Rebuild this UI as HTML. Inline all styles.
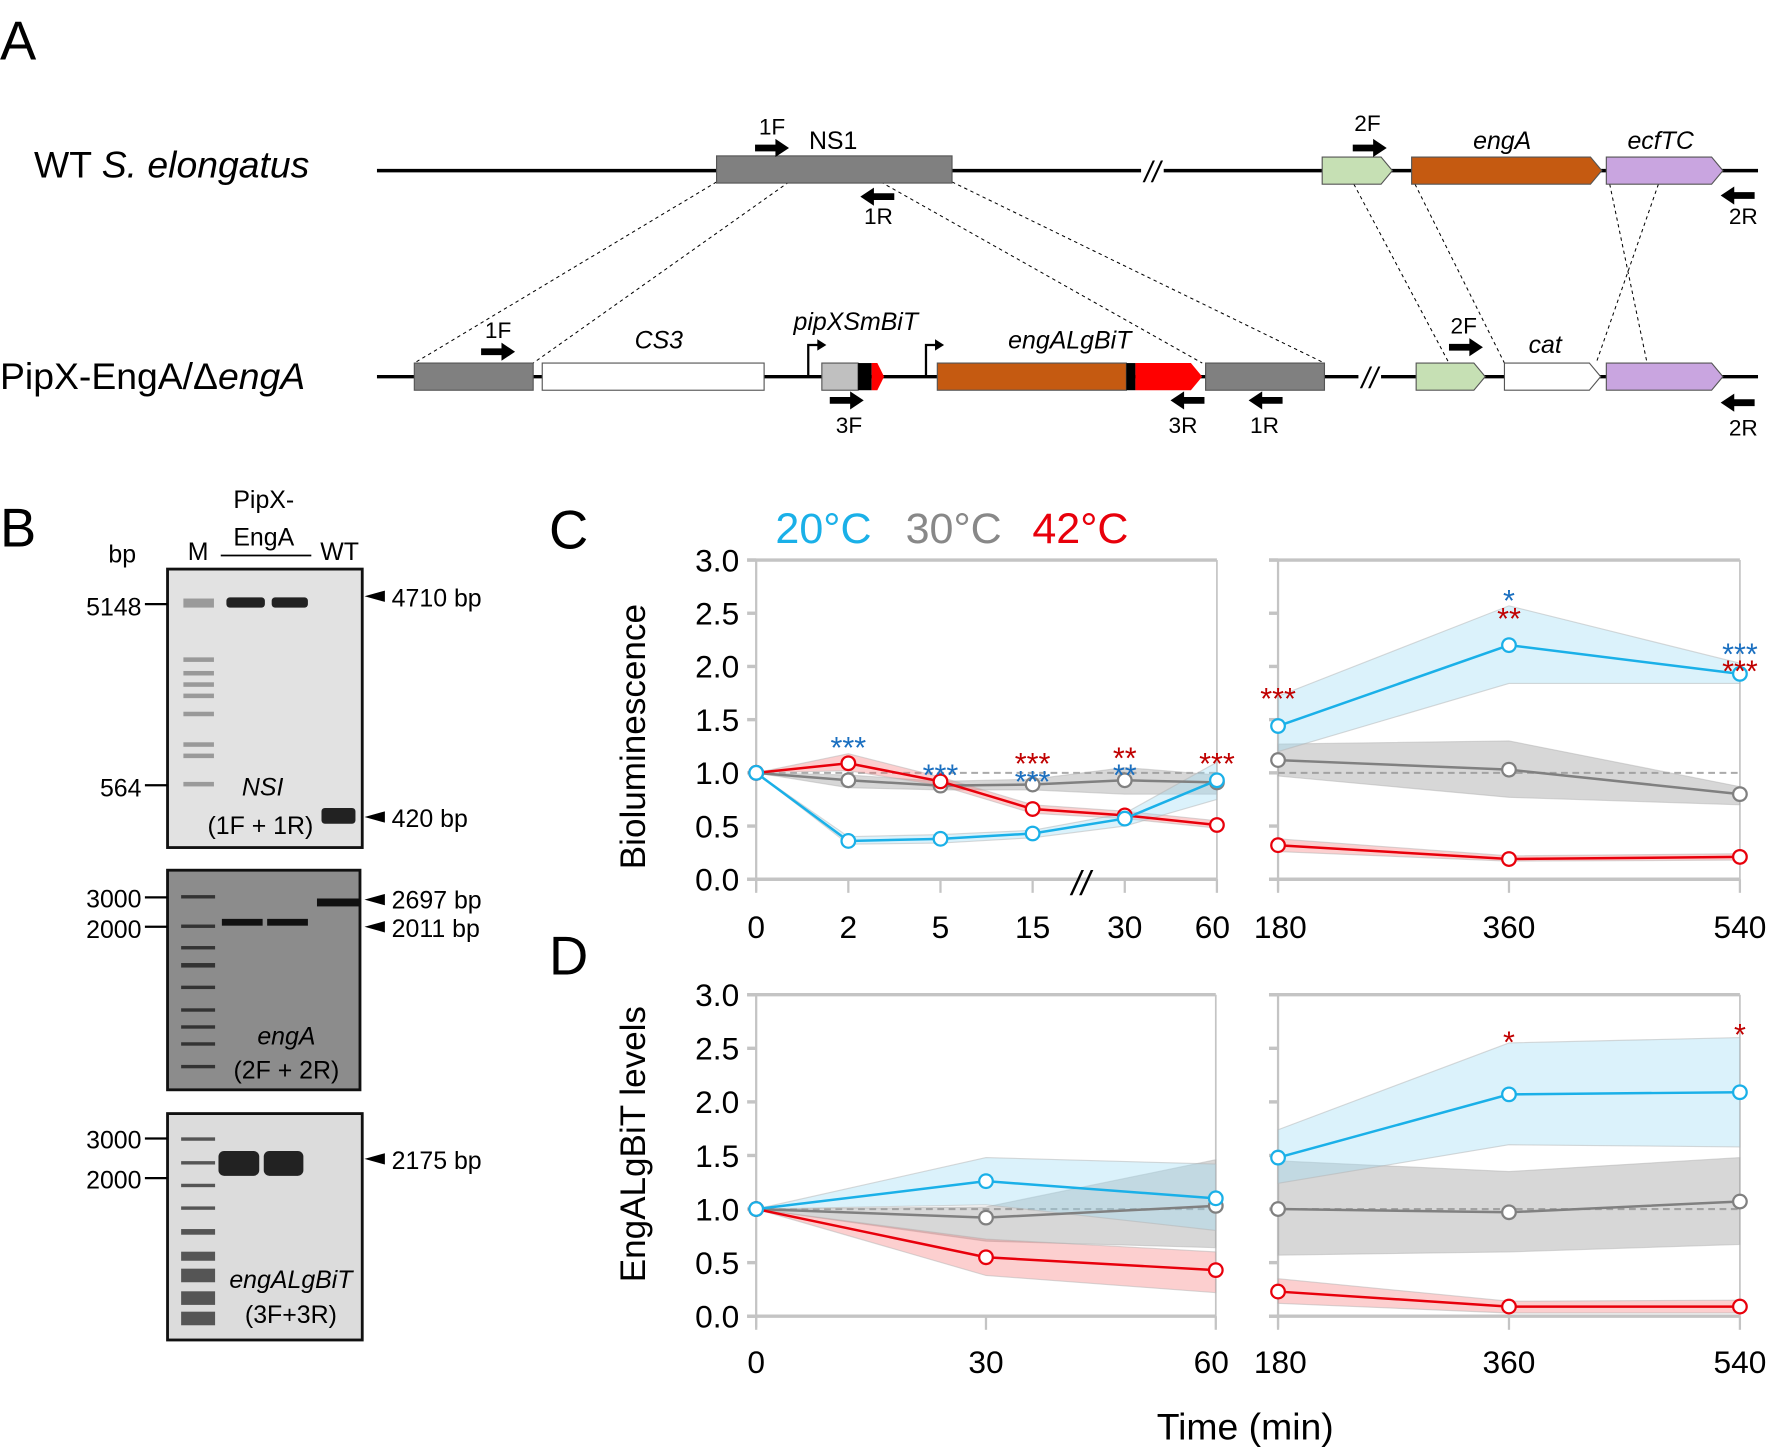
<!DOCTYPE html>
<html><head><meta charset="utf-8"><style>
html,body{margin:0;padding:0;background:#fff;}
svg{display:block;font-family:"Liberation Sans",Arial,sans-serif;}
</style></head><body>
<svg id="fig" width="1775" height="1454" viewBox="0 0 1568 1283" xmlns="http://www.w3.org/2000/svg">
<rect width="1568" height="1283" fill="#fff"/>
<!-- Panel A -->
<g>
<text x="0" y="52" font-size="48">A</text>
<text x="30" y="156" font-size="33">WT <tspan font-style="italic">S. elongatus</tspan></text>
<line x1="333" y1="150" x2="1553" y2="150" stroke="#000" stroke-width="3"/>
<g stroke="#000" stroke-width="0.9" stroke-dasharray="3,3" fill="none">
<line x1="633" y1="160" x2="366" y2="320"/><line x1="697" y1="160" x2="471" y2="320"/>
<line x1="778" y1="160" x2="1062" y2="320"/><line x1="841" y1="160" x2="1170" y2="320"/>
<line x1="1196" y1="162" x2="1280" y2="320"/><line x1="1250" y1="162" x2="1329" y2="320"/>
<line x1="1422" y1="162" x2="1455" y2="320"/><line x1="1465" y1="162" x2="1410" y2="320"/>
</g>
<rect x="633" y="137" width="208" height="24" fill="#808080" stroke="#555"/>
<text x="736" y="131" font-size="22" text-anchor="middle">NS1</text>
<rect x="1008" y="140" width="20" height="20" fill="#fff"/>
<text x="1018" y="160" font-size="26" text-anchor="middle" font-style="italic">//</text>
<polygon points="1168,138 1220,138 1230,150 1220,162 1168,162" fill="#c6e0b4" stroke="#555"/>
<polygon points="1247,138 1405,138 1415,150 1405,162 1247,162" fill="#c55a11" stroke="#555"/>
<polygon points="1419,138 1512,138 1522,150 1512,162 1419,162" fill="#c9a5e0" stroke="#555"/>
<text x="1327" y="131" font-size="22" text-anchor="middle" font-style="italic">engA</text>
<text x="1467" y="131" font-size="22" text-anchor="middle" font-style="italic">ecfTC</text>
<text x="0" y="343" font-size="33">PipX-EngA/Δ<tspan font-style="italic">engA</tspan></text>
<line x1="333" y1="332" x2="1553" y2="332" stroke="#000" stroke-width="3"/>
<rect x="366" y="320" width="105" height="24" fill="#808080" stroke="#555"/>
<rect x="479" y="320" width="196" height="24" fill="#fff" stroke="#555"/>
<text x="582" y="307" font-size="22" text-anchor="middle" font-style="italic">CS3</text>
<path d="M714,332 V304 H724" fill="none" stroke="#000" stroke-width="2"/><polygon points="722,299 730,304 722,309" fill="#000"/>
<rect x="726" y="320" width="32" height="24" fill="#c0c0c0" stroke="#555"/>
<rect x="758" y="320" width="12" height="24" fill="#000"/>
<polygon points="770,320 775,320 781,332 775,344 770,344" fill="#f00"/>
<text x="756" y="291" font-size="22" text-anchor="middle" font-style="italic">pipXSmBiT</text>
<path d="M818,332 V304 H828" fill="none" stroke="#000" stroke-width="2"/><polygon points="826,299 834,304 826,309" fill="#000"/>
<rect x="828" y="320" width="167" height="24" fill="#c55a11" stroke="#555"/>
<rect x="995" y="320" width="8" height="24" fill="#000"/>
<polygon points="1003,320 1052,320 1062,332 1052,344 1003,344" fill="#f00"/>
<text x="945" y="307" font-size="22" text-anchor="middle" font-style="italic">engALgBiT</text>
<rect x="1065" y="320" width="105" height="24" fill="#808080" stroke="#555"/>
<rect x="1200" y="322" width="20" height="20" fill="#fff"/>
<text x="1210" y="342" font-size="26" text-anchor="middle" font-style="italic">//</text>
<polygon points="1251,320 1302,320 1312,332 1302,344 1251,344" fill="#c6e0b4" stroke="#555"/>
<polygon points="1329,320 1404,320 1414,332 1404,344 1329,344" fill="#fff" stroke="#555"/>
<polygon points="1419,320 1512,320 1522,332 1512,344 1419,344" fill="#c9a5e0" stroke="#555"/>
<text x="1365" y="311" font-size="22" text-anchor="middle" font-style="italic">cat</text>
<g id="primers"></g>
</g>
<!-- Panel B -->
<g font-size="22">
<text x="0" y="482" font-size="48">B</text>
<text x="108" y="496" text-anchor="middle">bp</text>
<text x="175" y="494" text-anchor="middle">M</text>
<text x="233" y="448" text-anchor="middle">PipX-</text>
<text x="233" y="481" text-anchor="middle">EngA</text>
<line x1="195" y1="490" x2="275" y2="490" stroke="#000" stroke-width="1.5"/>
<text x="300" y="494" text-anchor="middle">WT</text>
<rect x="148" y="502" width="172" height="246" fill="#e2e2e2" stroke="#111" stroke-width="2.5"/>
<rect x="148" y="768" width="170" height="194" fill="#8c8c8c" stroke="#111" stroke-width="2.5"/>
<rect x="148" y="983" width="172" height="200" fill="#dcdcdc" stroke="#111" stroke-width="2.5"/>
<g fill="#222">
<rect x="200" y="527" width="34" height="9" rx="3"/><rect x="240" y="527" width="32" height="9" rx="3"/>
<rect x="284" y="713" width="30" height="14" rx="3"/>
<rect x="196" y="811" width="36" height="6" fill="#111"/><rect x="236" y="811" width="36" height="6" fill="#111"/><rect x="280" y="793" width="38" height="7" fill="#111"/>
<rect x="193" y="1016" width="36" height="22" rx="5"/><rect x="233" y="1016" width="35" height="22" rx="5"/>
</g>
<g fill="#888" opacity="0.8">
<rect x="162" y="528" width="27" height="8"/><rect x="162" y="580" width="27" height="4"/><rect x="162" y="592" width="27" height="4"/><rect x="162" y="602" width="27" height="4"/><rect x="162" y="612" width="27" height="4"/><rect x="162" y="628" width="27" height="4"/><rect x="162" y="655" width="27" height="4"/><rect x="162" y="665" width="27" height="4"/><rect x="162" y="690" width="27" height="4"/>
</g>
<g fill="#333"><rect x="160" y="790" width="30" height="3"/><rect x="160" y="816" width="30" height="3"/><rect x="160" y="835" width="30" height="3"/><rect x="160" y="850" width="30" height="4"/><rect x="160" y="870" width="30" height="3"/><rect x="160" y="890" width="30" height="3"/><rect x="160" y="905" width="30" height="3"/><rect x="160" y="920" width="30" height="3"/><rect x="160" y="940" width="30" height="3"/></g>
<g fill="#555"><rect x="160" y="1004" width="30" height="3"/><rect x="160" y="1025" width="30" height="3"/><rect x="160" y="1045" width="30" height="3"/><rect x="160" y="1065" width="30" height="3"/><rect x="160" y="1085" width="30" height="5"/><rect x="160" y="1105" width="30" height="8"/><rect x="160" y="1120" width="30" height="12"/><rect x="160" y="1140" width="30" height="12"/><rect x="160" y="1158" width="30" height="12"/></g>
<g stroke="#000" stroke-width="2"><line x1="128" y1="533" x2="148" y2="533"/><line x1="128" y1="693" x2="148" y2="693"/><line x1="128" y1="792" x2="148" y2="792"/><line x1="128" y1="818" x2="148" y2="818"/><line x1="128" y1="1005" x2="148" y2="1005"/><line x1="128" y1="1040" x2="148" y2="1040"/></g>
<g text-anchor="end"><text x="125" y="543">5148</text><text x="125" y="703">564</text><text x="125" y="801">3000</text><text x="125" y="828">2000</text><text x="125" y="1014">3000</text><text x="125" y="1049">2000</text></g>
<g fill="#000"><polygon points="322,526 340,521 340,531"/><polygon points="322,721 340,716 340,726"/><polygon points="322,794 340,789 340,799"/><polygon points="322,818 340,813 340,823"/><polygon points="322,1023 340,1018 340,1028"/></g>
<text x="346" y="535">4710 bp</text><text x="346" y="730">420 bp</text><text x="346" y="802">2697 bp</text><text x="346" y="827">2011 bp</text><text x="346" y="1032">2175 bp</text>
<g text-anchor="middle"><text x="232" y="702" font-style="italic">NSI</text><text x="230" y="736">(1F + 1R)</text>
<text x="253" y="922" font-style="italic">engA</text><text x="253" y="952">(2F + 2R)</text>
<text x="257" y="1137" font-style="italic">engALgBiT</text><text x="257" y="1168">(3F+3R)</text></g>
</g>
<!-- Panels C/D -->
<text x="485" y="484" font-size="48">C</text>
<text x="485" y="860" font-size="48">D</text>
<g font-size="38">
<text x="685" y="479" fill="#1ab0e8">20°C</text>
<text x="800" y="479" fill="#888">30°C</text>
<text x="912" y="479" fill="#e8000b">42°C</text>
</g>
<text transform="translate(570,650) rotate(-90)" font-size="31" text-anchor="middle">Bioluminescence</text>
<text transform="translate(570,1010) rotate(-90)" font-size="31" text-anchor="middle">EngALgBiT levels</text>
<text x="1100" y="1271" font-size="33" text-anchor="middle">Time (min)</text>
<g id="charts"></g>
</svg>
<script>
// ---- Panel C data ----
const cLeftCats = ["0","2","5","15","30","60"];
const cRightCats = ["180","360","540"];
const c20 = [1.0,0.36,0.38,0.43,0.57,0.93,1.44,2.2,1.93];
const c20lo = [1.0,0.33,0.34,0.39,0.5,0.75,1.2,1.84,1.84];
const c20hi = [1.0,0.4,0.42,0.46,0.62,1.1,1.72,2.57,2.03];
const c30 = [1.0,0.93,0.88,0.89,0.93,0.91,1.12,1.03,0.8];
const c30lo = [1.0,0.86,0.84,0.84,0.8,0.8,0.97,0.77,0.7];
const c30hi = [1.0,0.98,0.92,0.94,1.05,0.98,1.27,1.3,0.87];
const c42 = [1.0,1.09,0.92,0.66,0.6,0.51,0.32,0.19,0.21];
const c42lo = [1.0,1.02,0.88,0.62,0.57,0.48,0.26,0.17,0.18];
const c42hi = [1.0,1.18,0.96,0.7,0.64,0.55,0.38,0.22,0.24];
const cStarIdx = [1,2,3,3,4,4,5,6,7,7,8,8];
const cStarText = ["***","***","***","***","**","**","***","***","*","**","***","***"];
const cStarColor = ["b","b","r","b","r","b","r","r","b","r","b","r"];
const cStarLevel = [1.31,1.05,1.16,0.99,1.21,1.05,1.16,1.77,2.69,2.52,2.19,2.03];
// ---- Panel D data ----
const dLeftCats = ["0","30","60"];
const dRightCats = ["180","360","540"];
const d20 = [1.0,1.26,1.1,1.48,2.07,2.09];
const d20lo = [1.0,1.04,0.8,1.24,1.6,1.58];
const d20hi = [1.0,1.48,1.42,1.74,2.55,2.6];
const d30 = [1.0,0.92,1.03,1.0,0.97,1.07];
const d30lo = [1.0,0.7,0.64,0.57,0.6,0.67];
const d30hi = [1.0,1.02,1.46,1.45,1.35,1.48];
const d42 = [1.0,0.55,0.43,0.23,0.09,0.09];
const d42lo = [1.0,0.38,0.22,0.12,0.03,0.03];
const d42hi = [1.0,0.72,0.6,0.35,0.14,0.15];
const dStarIdx = [4,5];
const dStarText = ["*","*"];
const dStarColor = ["r","r"];
const dStarLevel = [2.63,2.7];
const yTicks = [0,0.5,1.0,1.5,2.0,2.5,3.0];

const NS="http://www.w3.org/2000/svg";
function mk(tag,attrs,parent){const e=document.createElementNS(NS,tag);for(const k in attrs)e.setAttribute(k,attrs[k]);if(parent)parent.appendChild(e);return e;}
const COL={c:"#1ab0e8",g:"#808080",r:"#e8000b"};
const BAND={c:"rgba(160,220,245,0.38)",g:"rgba(150,150,150,0.38)",r:"rgba(245,110,110,0.33)"};
const STAR={b:"#1a6fc0",r:"#c00000"};

const pr=document.getElementById('primers');
const primerDefs=[[667,130,1,"1F",682,118],[760,173,-1,"1R",776,197],[1195,130,1,"2F",1208,115],[1520,172,-1,"2R",1540,197],
[425,310,1,"1F",440,298],[1280,306,1,"2F",1293,294],[733,353,1,"3F",750,382],[1034,353,-1,"3R",1045,382],[1103,353,-1,"1R",1117,382],[1520,355,-1,"2R",1540,384]];
primerDefs.forEach(p=>{
  const g=mk('g',{},pr);
  
  
  const x=p[0],y=p[1],w=30;
  const pts=p[2]>0?`${x},${y-3} ${x+18},${y-3} ${x+18},${y-8} ${x+w},${y} ${x+18},${y+8} ${x+18},${y+3} ${x},${y+3}`:
  `${x+w},${y-3} ${x+12},${y-3} ${x+12},${y-8} ${x},${y} ${x+12},${y+8} ${x+12},${y+3} ${x+w},${y+3}`;
  mk('polygon',{points:pts,fill:'#000'},g);
  const t=mk('text',{x:p[4],y:p[5],'font-size':20,'text-anchor':'middle'},g);t.textContent=p[3];
});

const charts=document.getElementById('charts');
function drawPanel(cfg){
  const g=mk('g',{},charts);
  
  
  const yS=v=>cfg.y0-(cfg.y0-cfg.y3)*v/3;
  const nL=cfg.left.length;
  const xL=i=>cfg.lx0+(cfg.lx1-cfg.lx0)*i/(nL-1);
  const nR=cfg.right.length;
  const xR=i=>cfg.rx0+(cfg.rx1-cfg.rx0)*i/(nR-1);
  const xI=i=>i<nL?xL(i):xR(i-nL);
  [[cfg.lx0,cfg.lx1],[cfg.rx0,cfg.rx1]].forEach(([a,b],k)=>{
    const f=mk('g',{},g);
    
    
    mk('line',{x1:a-8,y1:yS(3),x2:b,y2:yS(3),stroke:'#c4c4c4','stroke-width':3},f);
    mk('line',{x1:a-8,y1:yS(0),x2:b,y2:yS(0),stroke:'#c4c4c4','stroke-width':3},f);
    mk('line',{x1:a,y1:yS(3),x2:a,y2:yS(0)+10,stroke:'#c4c4c4','stroke-width':2},f);
    mk('line',{x1:b,y1:yS(3),x2:b,y2:yS(0)+10,stroke:'#c4c4c4','stroke-width':1.5},f);
    yTicks.forEach(t=>mk('line',{x1:a-8,y1:yS(t),x2:a,y2:yS(t),stroke:'#c4c4c4','stroke-width':3},f));
    mk('line',{x1:a,y1:yS(1),x2:b,y2:yS(1),stroke:'#aaa','stroke-width':1.8,'stroke-dasharray':'6,4'},f);
  });
  yTicks.forEach(t=>{const tx=mk('text',{x:cfg.lx0-15,y:yS(t)+10,'font-size':28,'text-anchor':'end'},g);
    
    
    tx.textContent=t.toFixed(1);});
  cfg.left.forEach((c,i)=>{mk('line',{x1:xL(i),y1:yS(0),x2:xL(i),y2:yS(0)+12,stroke:'#c4c4c4','stroke-width':2},g);
    const t=mk('text',{x:xL(i)-(i==nL-1?4:0),y:cfg.tickY,'font-size':28,'text-anchor':'middle'},g);
    
    
    t.textContent=c;});
  cfg.right.forEach((c,i)=>{mk('line',{x1:xR(i),y1:yS(0),x2:xR(i),y2:yS(0)+12,stroke:'#c4c4c4','stroke-width':2},g);
    const t=mk('text',{x:xR(i)+(i==0?2:0),y:cfg.tickY,'font-size':28,'text-anchor':'middle'},g);
    
    
    t.textContent=c;});
  if(cfg.brk){const b=mk('text',{x:cfg.brk,y:yS(0)+14,'font-size':30,'text-anchor':'middle','font-style':'italic'},g);b.textContent='//';}
  const segs=[[0,nL],[nL,nL+nR]];
  cfg.series.forEach(s=>{
    segs.forEach(([a,b])=>{
      let d='';for(let i=a;i<b;i++)d+=(i==a?'M':'L')+xI(i)+','+yS(s.hi[i]);
      for(let i=b-1;i>=a;i--)d+='L'+xI(i)+','+yS(s.lo[i]);
      const band=mk('path',{d:d+'Z',fill:BAND[s.c],stroke:'rgba(180,180,180,0.5)','stroke-width':1},g);
      
      
    });
  });
  cfg.series.forEach(s=>{
    segs.forEach(([a,b])=>{
      let d='';for(let i=a;i<b;i++)d+=(i==a?'M':'L')+xI(i)+','+yS(s.v[i]);
      const ln=mk('path',{d:d,fill:'none',stroke:COL[s.c],'stroke-width':2.2},g);
      
      
    });
    s.v.forEach((v,i)=>{const p=mk('circle',{cx:xI(i),cy:yS(v),r:6,fill:'#fff',stroke:COL[s.c],'stroke-width':2},g);
      
      });
  });
  cfg.stars.idx.forEach((ix,k)=>{
    const t=mk('text',{x:xI(ix),y:yS(cfg.stars.lvl[k])+16,'font-size':27,'text-anchor':'middle',fill:STAR[cfg.stars.col[k]]},g);
    
    
    t.textContent=cfg.stars.txt[k];
  });
}
drawPanel({name:'chart-bioluminescence',y0:776,y3:494,lx0:668,lx1:1075,rx0:1129,rx1:1537,left:cLeftCats,right:cRightCats,tickY:828,brk:955,
  series:[{n:'30c',c:'g',v:c30,lo:c30lo,hi:c30hi},{n:'42c',c:'r',v:c42,lo:c42lo,hi:c42hi},{n:'20c',c:'c',v:c20,lo:c20lo,hi:c20hi}],
  stars:{idx:cStarIdx,txt:cStarText,col:cStarColor,lvl:cStarLevel}});
drawPanel({name:'chart-englgbit-levels',y0:1162,y3:878,lx0:668,lx1:1074,rx0:1129,rx1:1537,left:dLeftCats,right:dRightCats,tickY:1212,
  series:[{n:'30c',c:'g',v:d30,lo:d30lo,hi:d30hi},{n:'42c',c:'r',v:d42,lo:d42lo,hi:d42hi},{n:'20c',c:'c',v:d20,lo:d20lo,hi:d20hi}],
  stars:{idx:dStarIdx,txt:dStarText,col:dStarColor,lvl:dStarLevel}});
</script>
</body></html>
